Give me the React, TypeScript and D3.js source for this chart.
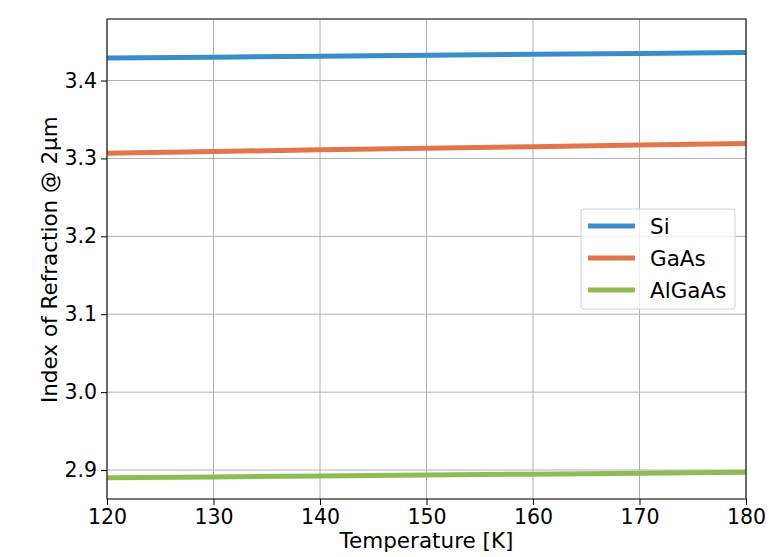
import React, { useEffect, useRef } from 'react';
import * as d3 from 'd3';

const temps = [120, 130, 140, 150, 160, 170, 180];
const siValues = [3.4288, 3.4300, 3.4312, 3.4324, 3.4336, 3.4348, 3.4360];
const gaasValues = [3.3068, 3.3089, 3.3110, 3.3130, 3.3151, 3.3172, 3.3193];
const algaasValues = [2.8900, 2.8912, 2.8924, 2.8935, 2.8947, 2.8958, 2.8970];

const seriesNames = ['Si', 'GaAs', 'AlGaAs'];
const seriesColors = ['#3a8dc9', '#e2754a', '#8fbb52'];
const xTicks = [120, 130, 140, 150, 160, 170, 180];
const yTicks = [2.9, 3.0, 3.1, 3.2, 3.3, 3.4];

const App = () => {
  const svgRef = useRef<SVGSVGElement>(null);

  useEffect(() => {
    const svg = d3.select(svgRef.current);
    svg.selectAll('*').remove(); // start clean

    const width = 769;
    const height = 557;
    const margin = { top: 19, right: 23, bottom: 58, left: 107 };
    const font = 'DejaVu Sans, sans-serif';

    const x = d3.scaleLinear()
      .domain([120, 180])
      .range([margin.left, width - margin.right]);

    const y = d3.scaleLinear()
      .domain([2.8628, 3.479])
      .range([height - margin.bottom, margin.top]);

    // grid
    const grid = svg.append('g');
    grid.selectAll('line.gx')
      .data(xTicks)
      .enter().append('line')
        .attr('x1', d => x(d)).attr('x2', d => x(d))
        .attr('y1', margin.top).attr('y2', height - margin.bottom)
        .attr('stroke', '#b0b0b0').attr('stroke-width', 1);
    grid.selectAll('line.gy')
      .data(yTicks)
      .enter().append('line')
        .attr('x1', margin.left).attr('x2', width - margin.right)
        .attr('y1', d => y(d)).attr('y2', d => y(d))
        .attr('stroke', '#b0b0b0').attr('stroke-width', 1);

    const allSeries = [siValues, gaasValues, algaasValues];
    const line = d3.line<number>()
      .x((d, i) => x(temps[i]))
      .y(d => y(d));

    svg.append('g')
      .selectAll('path')
      .data(allSeries)
      .enter().append('path')
        .attr('d', d => line(d))
        .attr('fill', 'none')
        .attr('stroke', (d, i) => seriesColors[i])
        .attr('stroke-width', 5);

    // frame
    svg.append('rect')
      .attr('x', margin.left).attr('y', margin.top)
      .attr('width', width - margin.left - margin.right)
      .attr('height', height - margin.top - margin.bottom)
      .attr('fill', 'none')
      .attr('stroke', '#222')
      .attr('stroke-width', 1.2);

    const xAxis = g => g
      .attr('transform', `translate(0,${height - margin.bottom})`)
      .call(d3.axisBottom(x).tickValues(xTicks).tickSize(6).tickPadding(4).tickFormat(d3.format('d')))
      .call(g => g.select('.domain').remove())
      .attr('font-size', '20.5px')
      .attr('font-family', font);

    const yAxis = g => g
      .attr('transform', `translate(${margin.left},0)`)
      .call(d3.axisLeft(y).tickValues(yTicks).tickSize(6).tickPadding(4).tickFormat(d3.format('.1f')))
      .call(g => g.select('.domain').remove())
      .attr('font-size', '20.5px')
      .attr('font-family', font);

    svg.append('g').call(xAxis);
    svg.append('g').call(yAxis);
    svg.selectAll('.tick text').attr('fill', '#000');
    svg.selectAll('.tick line').attr('stroke', '#000');

    svg.append('text')
      .attr('x', x(150)).attr('y', 548)
      .attr('text-anchor', 'middle')
      .attr('font-size', '21.5px').attr('font-family', font)
      .text('Temperature [K]');

    svg.append('text')
      .attr('transform', `translate(57,${y(3.17)}) rotate(-90)`)
      .attr('text-anchor', 'middle')
      .attr('font-size', '21.5px').attr('font-family', font)
      .text('Index of Refraction @ 2μm');

    // legend
    const legend = svg.append('g').attr('transform', 'translate(581,209)');
    legend.append('rect')
      .attr('width', 154).attr('height', 100)
      .attr('rx', 3)
      .attr('fill', 'rgba(255,255,255,0.8)')
      .attr('stroke', '#d0d0d0');
    const items = legend.selectAll('g.item')
      .data(seriesNames)
      .enter().append('g')
        .attr('transform', (d, i) => `translate(0,${17 + i * 32})`);
    items.append('line')
      .attr('x1', 7).attr('x2', 54)
      .attr('stroke', (d, i) => seriesColors[i])
      .attr('stroke-width', 5);
    items.append('text')
      .attr('x', 69).attr('y', 8)
      .attr('font-size', '21.5px').attr('font-family', font)
      .text(d => d);
  }, []);

  return (
    <svg ref={svgRef} width={769} height={557} style={{ position: 'absolute', left: 0, top: 0 }}></svg>
  );
};

export default App;
